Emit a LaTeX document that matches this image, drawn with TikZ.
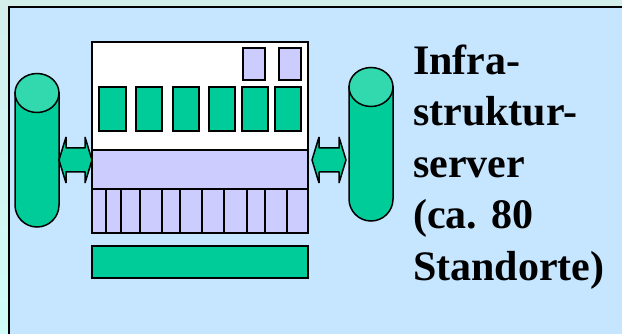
\documentclass[tikz,border=0pt]{standalone}
\usepackage{fontspec}
\setmainfont{Liberation Serif}
\definecolor{panelblue}{HTML}{C6E5FF}
\definecolor{cardgreen}{HTML}{00CC99}
\definecolor{lidgreen}{HTML}{33D9AE}
\definecolor{slotlilac}{HTML}{CCCCFF}
\definecolor{edgetop}{HTML}{D4EEEA}
\definecolor{edgebottom}{HTML}{CFFCF8}
\tikzset{
	part/.style={draw=black, line width=1.5pt},
	card/.style={part, fill=cardgreen},
	slot/.style={part, fill=slotlilac},
	lid/.style={part, fill=lidgreen},
	link/.style={part, fill=cardgreen, line join=bevel}
}
\begin{document}
\begin{tikzpicture}[x=1pt, y=-1pt]
	\useasboundingbox (0, 0) rectangle (622, 334);
	% Background and panel:
	\shade[top color=edgetop, bottom color=edgebottom] (0, 0) rectangle (622, 334);
	\fill[panelblue] (9, 7) rectangle (622, 334);
	\draw[line width=1.5pt] (9, 334) -- (9, 7) -- (622, 7);
	% Server box:
	\draw[part, fill=white] (92, 42) rectangle (308, 150);
	\draw[slot] (92, 150) rectangle (308, 189);
	\draw[slot] (92, 189) rectangle (308, 233);
	\draw[card] (92, 246) rectangle (308, 278);
	\draw[slot] (243, 48) rectangle (265, 80);
	\draw[slot] (279, 48) rectangle (301, 80);
	\draw[card] (99, 87) rectangle (126, 131);
	\draw[card] (136, 87) rectangle (162, 131);
	\draw[card] (173, 87) rectangle (199, 131);
	\draw[card] (209, 87) rectangle (235, 131);
	\draw[card] (242, 87) rectangle (268, 131);
	\draw[card] (275, 87) rectangle (301, 131);
	% Slot dividers:
	\draw[part] (106, 189) -- (106, 233);
	\draw[part] (121, 189) -- (121, 233);
	\draw[part] (140, 189) -- (140, 233);
	\draw[part] (162, 189) -- (162, 233);
	\draw[part] (180, 189) -- (180, 233);
	\draw[part] (202, 189) -- (202, 233);
	\draw[part] (224, 189) -- (224, 233);
	\draw[part] (247, 189) -- (247, 233);
	\draw[part] (265, 189) -- (265, 233);
	\draw[part] (287, 189) -- (287, 233);
	% Disks:
	\draw[card] (15, 93) -- (15, 205) arc[start angle=180, end angle=0, x radius=22, y radius=22] -- (59, 93) -- cycle;
	\draw[lid] (37, 93) ellipse[x radius=22, y radius=19.5];
	\draw[card] (349, 87) -- (349, 199) arc[start angle=180, end angle=0, x radius=22, y radius=22] -- (393, 87) -- cycle;
	\draw[lid] (371, 87) ellipse[x radius=22, y radius=19.5];
	% Double arrows:
	\draw[link] (59, 160) -- (66, 137) -- (66, 148) -- (85, 148) -- (85, 137) -- (92, 160) -- (85, 183) -- (85, 172) -- (66, 172) -- (66, 183) -- cycle;
	\draw[link] (312, 160) -- (319, 137) -- (319, 148) -- (339, 148) -- (339, 137) -- (346, 160) -- (339, 183) -- (339, 172) -- (319, 172) -- (319, 183) -- cycle;
	% Label:
	\node[anchor=base west, inner sep=0pt, align=left, font=\fontsize{42}{51.5}\selectfont\bfseries] (T1) at (413, 280) {Infra-\\struktur-\\server\\(ca. 80\\Standorte)};
\end{tikzpicture}
\end{document}
